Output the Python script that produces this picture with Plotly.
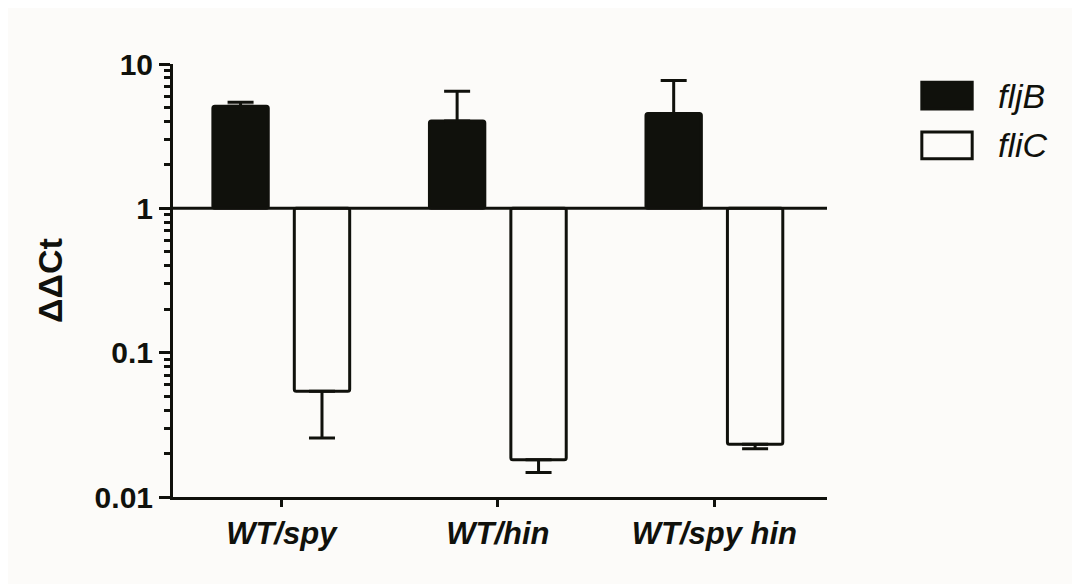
import plotly.graph_objects as go

# ---- data ----
categories = ["WT/spy", "WT/hin", "WT/spy hin"]
fljB_mean = [5.10, 4.02, 4.54]
fljB_upper = [5.43, 6.47, 7.70]
fliC_mean = [0.054, 0.0181, 0.0232]
fliC_lower = [0.0256, 0.0148, 0.0216]
series_names = ["fljB", "fliC"]
ytick_vals = [0.01, 0.1, 1, 10]
ytick_text = ["0.01", "0.1", "1", "10"]
baseline = 1

INK = "#10110c"
BG = "#fcfbf9"
FONT = "Liberation Sans"

fig = go.Figure()

fig.add_trace(go.Bar(
    name=series_names[0], x=categories,
    y=[m - baseline for m in fljB_mean], base=baseline,
    marker=dict(color=INK, line=dict(color=INK, width=3), cornerradius=2),
    error_y=dict(type="data", symmetric=False,
                 array=[u - m for u, m in zip(fljB_upper, fljB_mean)],
                 arrayminus=[0 for _ in fljB_mean],
                 color=INK, thickness=3, width=13),
    showlegend=False,
))
fig.add_trace(go.Bar(
    name=series_names[1], x=categories,
    y=[m - baseline for m in fliC_mean], base=baseline,
    marker=dict(color=BG, line=dict(color=INK, width=3), cornerradius=2),
    error_y=dict(type="data", symmetric=False,
                 array=[0 for _ in fliC_mean],
                 arrayminus=[m - l for m, l in zip(fliC_mean, fliC_lower)],
                 color=INK, thickness=3, width=13),
    showlegend=False,
))

# baseline at y = 1
fig.add_shape(type="line", xref="paper", x0=0, x1=1, yref="y", y0=baseline, y1=baseline,
              line=dict(color=INK, width=3), layer="above")

# custom legend (swatches + labels)
leg_x0, leg_x1, txt_x = 1.145, 1.222, 1.259
leg_rows = [(0.896, 0.958), (0.781, 0.843)]
leg_fill = [INK, BG]
for name, (ya, yb), fill in zip(series_names, leg_rows, leg_fill):
    fig.add_shape(type="rect", xref="paper", yref="paper", x0=leg_x0, x1=leg_x1, y0=ya, y1=yb,
                  line=dict(color=INK, width=3), fillcolor=fill)
    fig.add_annotation(xref="paper", yref="paper", x=txt_x, y=(ya + yb) / 2, text=name,
                       showarrow=False, xanchor="left", yanchor="middle",
                       font=dict(family=FONT, size=34, color=INK, style="italic"))

fig.update_layout(
    width=1080, height=584,
    margin=dict(l=165, r=261, t=56, b=95),
    paper_bgcolor=BG, plot_bgcolor=BG,
    barmode="group", bargap=0.248, bargroupgap=0.32,
    showlegend=False,
    xaxis=dict(
        type="category", range=[-0.5, 2.52],
        showline=True, linecolor=INK, linewidth=3,
        ticks="outside", ticklen=7, tickwidth=3, tickcolor=INK,
        showgrid=False, zeroline=False,
        tickfont=dict(family=FONT, size=31, color=INK, weight="bold", style="italic"),
    ),
    yaxis=dict(
        type="log", range=[-2, 1],
        tickmode="array", tickvals=ytick_vals, ticktext=ytick_text,
        showline=True, linecolor=INK, linewidth=3,
        ticks="outside", ticklen=11, tickwidth=3, tickcolor=INK,
        minor=dict(dtick="D1", ticks="outside", ticklen=6, tickwidth=3, tickcolor=INK, showgrid=False),
        showgrid=False, zeroline=False,
        tickfont=dict(family=FONT, size=30, color=INK, weight="bold"),
        title=dict(text="ΔΔCt", standoff=22,
                   font=dict(family=FONT, size=34, color=INK, weight="bold")),
    ),
)

fig.write_html("out.html")
